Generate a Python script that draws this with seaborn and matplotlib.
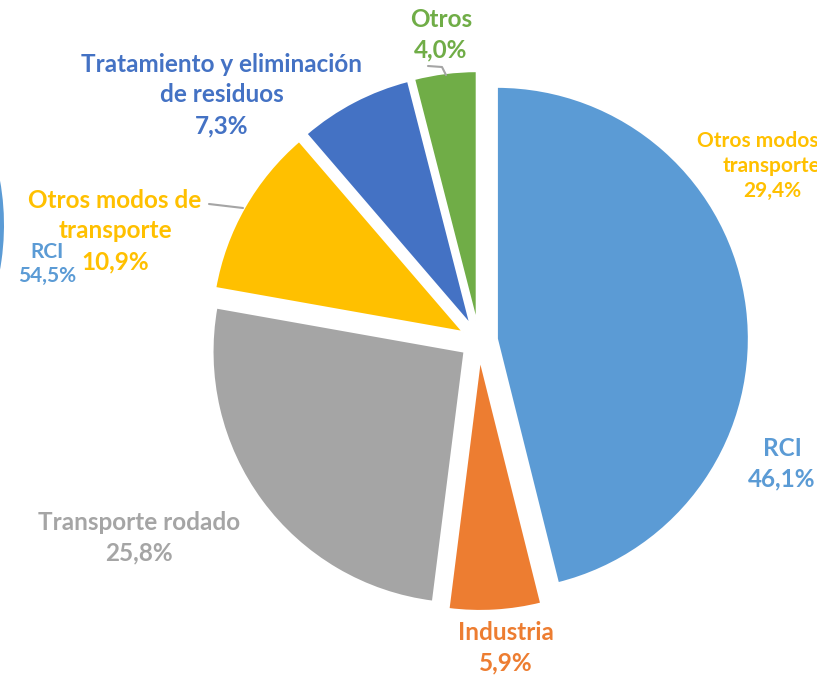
import matplotlib
matplotlib.use("Agg")
import matplotlib.pyplot as plt
import seaborn as sns

sns.set_theme(style="white")
plt.rcParams['font.family'] = ['Lato', 'DejaVu Sans']

# main chart
labels = ["RCI", "Industria", "Transporte rodado", "Otros modos de\ntransporte",
          "Tratamiento y eliminación\nde residuos", "Otros"]
shares = [46.1, 5.9, 25.8, 10.9, 7.3, 4.0]
colors = ["#5B9BD5", "#ED7D31", "#A5A5A5", "#FFC000", "#4472C4", "#70AD47"]

# neighbouring charts, only partly visible at the edges
left_label = "RCI"
left_share = 54.5
right_label = "Otros modos de\ntransporte"
right_share = 29.4

W, H = 817, 681

def fmt(lab, v):
    return f"{lab}\n{v:.1f}%".replace(".", ",")

# label centres (image pixels, y from top)
label_pos = [(782, 464), (506, 648), (139, 538), (115, 231), (222, 95), (441, 35)]

fig = plt.figure(figsize=(W / 100, H / 100), dpi=100)
ax = fig.add_axes([0, 0, 1, 1])

R = 252
gap = 18
ax.pie(shares, colors=colors, startangle=90, counterclock=False,
       radius=R, center=(479, H - 341), explode=[gap] * len(shares),
       wedgeprops=dict(edgecolor="white", linewidth=1.5), frame=True)

# sliver of the left chart
ax.pie([left_share, 100 - left_share], colors=["#5B9BD5", "none"], startangle=90,
       counterclock=False, radius=R, center=(4 - R, H - 225),
       wedgeprops=dict(edgecolor="none"), frame=True)
ax.set_xlim(0, W)
ax.set_ylim(0, H)
ax.set_aspect("equal")
ax.axis("off")

for lab, v, c, (x, y) in zip(labels, shares, colors, label_pos):
    ax.text(x, H - y, fmt(lab, v), color=c, ha="center", va="center",
            fontsize=17.5, fontweight="bold", linespacing=1.4)

ax.text(47, H - 264, fmt(left_label, left_share), color="#5B9BD5", ha="center",
        va="center", fontsize=15, fontweight="bold", linespacing=1.25)
ax.text(772, H - 166, fmt(right_label, right_share), color="#FFC000", ha="center",
        va="center", fontsize=15, fontweight="bold", linespacing=1.3)

# leader lines
ax.plot([428, 442, 446], [H - 66, H - 67, H - 75], color="#A5A5A5", lw=1.5)
ax.plot([209, 243], [H - 204, H - 208], color="#A5A5A5", lw=1.5)

fig.patch.set_facecolor("white")
fig.savefig("out.png", dpi=100)
